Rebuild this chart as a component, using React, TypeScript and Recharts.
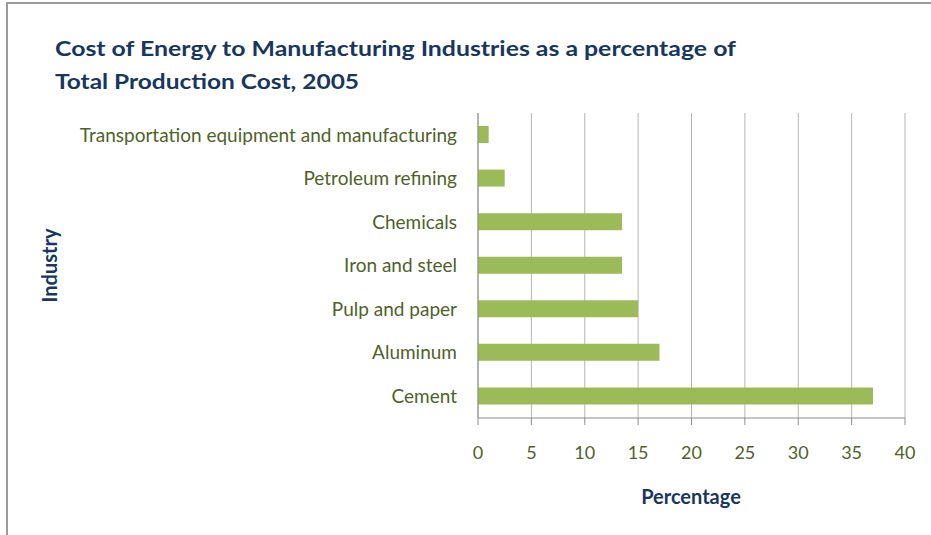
import React from 'react';
import { BarChart, Bar, XAxis, YAxis, CartesianGrid } from 'recharts';

const industries = [
  'Transportation equipment and manufacturing',
  'Petroleum refining',
  'Chemicals',
  'Iron and steel',
  'Pulp and paper',
  'Aluminum',
  'Cement',
];
const percentages = [1, 2.5, 13.5, 13.5, 15, 17, 37];
const xTicks = [0, 5, 10, 15, 20, 25, 30, 35, 40];
const titleLines = [
  'Cost of Energy to Manufacturing Industries as a percentage of',
  'Total Production Cost, 2005',
];
const xAxisTitle = 'Percentage';
const yAxisTitle = 'Industry';

const data = industries.map((name, i) => ({ name, value: percentages[i] }));

const FONT = 'Lato, "Open Sans", sans-serif';
const TICK_COLOR = '#4F6228';
const TITLE_COLOR = '#17375E';

export default function App() {
  return (
    <div style={{ position: 'absolute', left: 0, top: 0, width: 931, height: 535, background: '#fff', overflow: 'hidden' }}>
      <div
        style={{
          position: 'absolute',
          left: 6,
          top: 2,
          width: 940,
          height: 540,
          borderTop: '2px solid #9a9a9a',
          borderLeft: '2px solid #9a9a9a',
          boxSizing: 'border-box',
        }}
      />
      <div style={{ position: 'absolute', left: 0, top: 0 }}>
        <BarChart
          width={931}
          height={535}
          data={data}
          layout="vertical"
          margin={{ top: 113, right: 26, bottom: 57, left: 0 }}
          style={{ fontFamily: FONT }}
        >
          <CartesianGrid horizontal={false} vertical={true} stroke="#b4b4b4" strokeWidth={1} />
          <XAxis
            type="number"
            domain={[0, 40]}
            ticks={xTicks}
            interval={0}
            height={60}
            axisLine={{ stroke: '#8c8c8c' }}
            tickLine={{ stroke: '#8c8c8c' }}
            tickSize={7}
            tickMargin={21}
            tick={{ fill: TICK_COLOR, fontSize: 18, fontFamily: FONT }}
          />
          <YAxis
            type="category"
            dataKey="name"
            width={478}
            axisLine={{ stroke: '#8c8c8c' }}
            tickLine={false}
            tickSize={0}
            tickMargin={21}
            interval={0}
            tick={{ fill: TICK_COLOR, fontSize: 19, fontFamily: FONT }}
          />
          <Bar dataKey="value" fill="#9BBB59" barSize={17} isAnimationActive={false} />
        </BarChart>
      </div>
      <svg
        width={931}
        height={535}
        style={{ position: 'absolute', left: 0, top: 0, pointerEvents: 'none' }}
      >
        <text x={55} y={56} fill={TITLE_COLOR} fontFamily={FONT} fontWeight={700} fontSize={21} textLength={681} lengthAdjust="spacingAndGlyphs">
          {titleLines[0]}
        </text>
        <text x={55} y={89} fill={TITLE_COLOR} fontFamily={FONT} fontWeight={700} fontSize={21} textLength={304} lengthAdjust="spacingAndGlyphs">
          {titleLines[1]}
        </text>
        <text x={691} y={504} textAnchor="middle" fill={TITLE_COLOR} fontFamily={FONT} fontWeight={700} fontSize={20}>
          {xAxisTitle}
        </text>
        <text
          x={0}
          y={0}
          transform="translate(57,265.5) rotate(-90)"
          textAnchor="middle"
          fill={TITLE_COLOR}
          fontFamily={FONT}
          fontWeight={700}
          fontSize={20}
        >
          {yAxisTitle}
        </text>
      </svg>
    </div>
  );
}
